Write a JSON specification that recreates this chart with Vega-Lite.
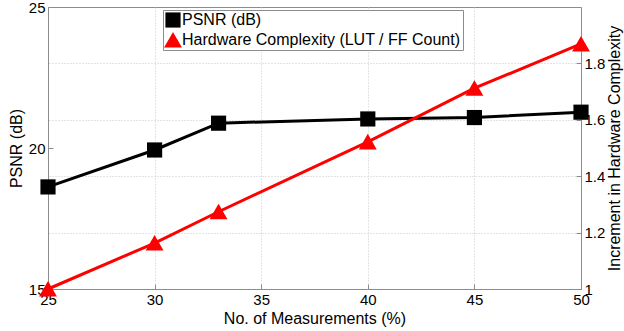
{
  "$schema": "https://vega.github.io/schema/vega-lite/v6.json",
  "width": 533,
  "height": 282,
  "autosize": {"type": "none"},
  "padding": {"left": 48, "top": 7, "right": 43, "bottom": 42},
  "config": {
    "font": "Liberation Sans",
    "view": {"stroke": "#8c8c8c", "strokeWidth": 1},
    "axis": {
      "domainColor": "#8c8c8c",
      "tickColor": "#8c8c8c",
      "labelColor": "#000000",
      "titleColor": "#000000",
      "labelFont": "Liberation Sans",
      "titleFont": "Liberation Sans",
      "labelFontSize": 15,
      "titleFontSize": 16,
      "titleFontWeight": "normal",
      "gridColor": "#c8c8c8",
      "gridDash": [1, 2],
      "gridWidth": 1
    },
    "legend": {
      "orient": "none",
      "legendX": 115,
      "legendY": 3,
      "title": null,
      "padding": 2,
      "strokeColor": "#8c8c8c",
      "fillColor": "#ffffff",
      "labelFont": "Liberation Sans",
      "labelFontSize": 16,
      "labelColor": "#000000",
      "labelOffset": 1,
      "symbolSize": 230,
      "symbolStrokeWidth": 0,
      "rowPadding": 4,
      "labelLimit": 400
    }
  },
  "data": {
    "values": [
      {"m": 25, "series": "PSNR (dB)", "value": 18.62},
      {"m": 30, "series": "PSNR (dB)", "value": 19.93},
      {"m": 33, "series": "PSNR (dB)", "value": 20.88},
      {"m": 40, "series": "PSNR (dB)", "value": 21.03},
      {"m": 45, "series": "PSNR (dB)", "value": 21.08},
      {"m": 50, "series": "PSNR (dB)", "value": 21.27},
      {"m": 25, "series": "Hardware Complexity (LUT / FF Count)", "value": 1.0},
      {"m": 30, "series": "Hardware Complexity (LUT / FF Count)", "value": 1.163},
      {"m": 33, "series": "Hardware Complexity (LUT / FF Count)", "value": 1.274},
      {"m": 40, "series": "Hardware Complexity (LUT / FF Count)", "value": 1.522},
      {"m": 45, "series": "Hardware Complexity (LUT / FF Count)", "value": 1.712},
      {"m": 50, "series": "Hardware Complexity (LUT / FF Count)", "value": 1.869}
    ]
  },
  "encoding": {
    "x": {
      "field": "m",
      "type": "quantitative",
      "scale": {"domain": [25, 50], "nice": false, "zero": false},
      "axis": {
        "title": "No. of Measurements (%)",
        "values": [25, 30, 35, 40, 45, 50],
        "format": "d",
        "grid": true,
        "tickSize": -5,
        "labelPadding": 8,
        "titlePadding": 3,
        "labelFlush": false
      }
    }
  },
  "layer": [
    {
      "transform": [{"filter": "datum.series === 'PSNR (dB)'"}],
      "encoding": {
        "y": {
          "field": "value",
          "type": "quantitative",
          "scale": {"domain": [15, 25], "nice": false, "zero": false},
          "axis": {
            "orient": "left",
            "title": "PSNR (dB)",
            "values": [15, 20, 25],
            "grid": false,
            "tickSize": -5,
            "labelPadding": 8,
            "titlePadding": 4,
            "labelFlush": false
          }
        }
      },
      "layer": [
        {"mark": {"type": "line", "color": "#000000", "strokeWidth": 3}},
        {
          "mark": {"type": "point", "filled": true, "opacity": 1, "size": 230},
          "encoding": {
            "color": {
              "field": "series",
              "type": "nominal",
              "scale": {
                "domain": ["PSNR (dB)", "Hardware Complexity (LUT / FF Count)"],
                "range": ["#000000", "#ff0000"]
              }
            },
            "shape": {
              "field": "series",
              "type": "nominal",
              "scale": {
                "domain": ["PSNR (dB)", "Hardware Complexity (LUT / FF Count)"],
                "range": ["square", "M0,-1.05L1.18,1L-1.18,1Z"]
              }
            }
          }
        }
      ]
    },
    {
      "transform": [{"filter": "datum.series !== 'PSNR (dB)'"}],
      "encoding": {
        "y": {
          "field": "value",
          "type": "quantitative",
          "scale": {"domain": [1, 2], "nice": false, "zero": false},
          "axis": {
            "orient": "right",
            "title": "Increment in Hardware Complexity",
            "titleAngle": 270,
            "titleBaseline": "top",
            "values": [1, 1.2, 1.4, 1.6, 1.8],
            "format": ".1~f",
            "grid": true,
            "tickSize": -5,
            "labelPadding": 8,
            "titlePadding": 2,
            "labelFlush": false
          }
        }
      },
      "layer": [
        {"mark": {"type": "line", "color": "#ff0000", "strokeWidth": 3}},
        {
          "mark": {"type": "point", "filled": true, "opacity": 1, "size": 230},
          "encoding": {
            "color": {
              "field": "series",
              "type": "nominal",
              "scale": {
                "domain": ["PSNR (dB)", "Hardware Complexity (LUT / FF Count)"],
                "range": ["#000000", "#ff0000"]
              }
            },
            "shape": {
              "field": "series",
              "type": "nominal",
              "scale": {
                "domain": ["PSNR (dB)", "Hardware Complexity (LUT / FF Count)"],
                "range": ["square", "M0,-1.05L1.18,1L-1.18,1Z"]
              }
            }
          }
        }
      ]
    }
  ],
  "resolve": {"scale": {"y": "independent"}}
}
